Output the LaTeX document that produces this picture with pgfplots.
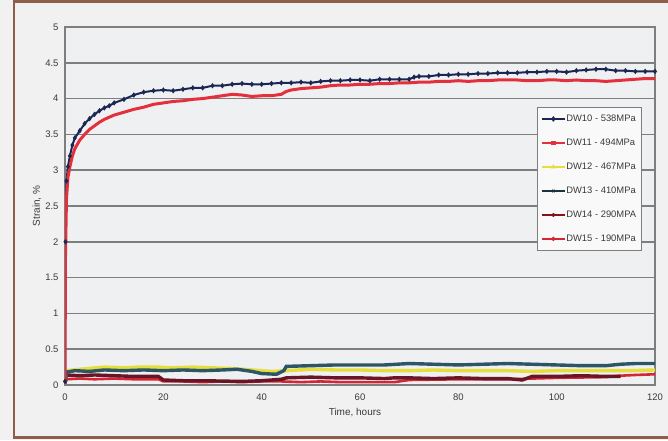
\documentclass[border=0pt]{standalone}
\usepackage{pgfplots}
\pgfplotsset{compat=1.18}
\usepackage{fontspec}
\setmainfont{Liberation Sans}
\definecolor{bgc}{HTML}{F1F1F1}
\definecolor{plotbg}{HTML}{EFF0F2}
\definecolor{framec}{HTML}{8E5E4A}
\definecolor{gridc}{HTML}{7E7E7E}
\definecolor{txt}{HTML}{3A3A3A}
\definecolor{navy}{HTML}{1B2653}
\definecolor{redc}{HTML}{E4303C}
\definecolor{yel}{HTML}{E6DE3C}
\definecolor{slate}{HTML}{2C5566}
\definecolor{maroon}{HTML}{6A1525}
\definecolor{redb}{HTML}{D42636}
\begin{document}
\begin{tikzpicture}
\useasboundingbox (0,0) rectangle (668pt,440pt);
\fill[bgc] (0,0) rectangle (668pt,440pt);
\draw[framec, line width=2.6pt] (700pt,438.3pt) -- (13.8pt,438.3pt) -- (13.8pt,2.8pt) -- (700pt,2.8pt);
\begin{axis}[
  at={(65pt,55pt)}, anchor=south west,
  scale only axis, width=590pt, height=358pt,
  xmin=0, xmax=120, ymin=0, ymax=5,
  axis background/.style={fill=plotbg},
  axis line style={gridc, line width=1.2pt},
  xtick={0,20,40,60,80,100,120},
  ytick={0,0.5,1,1.5,2,2.5,3,3.5,4,4.5,5},
  yticklabels={0,0.5,1,1.5,2,2.5,3,3.5,4,4.5,5},
  xticklabels={0,20,40,60,80,100,120},
  major tick length=0pt,
  ymajorgrids, grid style={gridc, line width=1.6pt},
  tick label style={font=\fontsize{9.5}{11}\selectfont, text=txt},
  yticklabel style={xshift=-3pt},
  xticklabel style={yshift=-5pt},
  xlabel={Time, hours}, ylabel={Strain, \%},
  label style={font=\fontsize{10}{11}\selectfont, text=txt},
  xlabel style={at={(axis description cs:0.4915,0)}, anchor=center, yshift=-28pt},
  ylabel style={at={(axis description cs:-0.0475,0.5)}, anchor=center},
  legend style={at={(0.8,0.7765)}, anchor=north west, fill=white!60!plotbg,
    draw=gridc, line width=0.9pt, font=\fontsize{9.4}{10}\selectfont, text=txt,
    inner xsep=4pt, inner ysep=6pt, row sep=13pt,
    nodes={inner sep=1pt, text height=7pt, text depth=2pt}},
  legend cell align=left,
  legend image code/.code={\draw[mark repeat=2,mark phase=2,#1] plot coordinates {(0cm,0cm)(0.4cm,0cm)(0.8cm,0cm)};},
]
% DW15
\addplot[redb, line width=2.6pt, forget plot] coordinates {
(0,0.02)(0.3,0.08)(3,0.09)(6,0.08)(10,0.09)(14,0.08)(19,0.08)(20,0.05)(24,0.05)(28,0.04)(32,0.05)(36,0.04)(40,0.05)(44,0.05)(48,0.04)(52,0.05)(56,0.04)(60,0.04)(64,0.04)(67,0.04)(70,0.07)(80,0.08)(90,0.08)(100,0.1)(110,0.11)(113,0.13)(116,0.14)(120,0.15)};
% DW14
\addplot[maroon, line width=3.4pt, forget plot] coordinates {
(0,0.02)(0.3,0.14)(3,0.13)(6,0.14)(10,0.13)(14,0.12)(19,0.12)(20,0.07)(24,0.06)(28,0.06)(32,0.055)(36,0.05)(40,0.06)(44,0.08)(45,0.1)(50,0.11)(55,0.1)(60,0.1)(65,0.09)(67,0.1)(70,0.1)(75,0.09)(80,0.1)(85,0.09)(90,0.09)(93,0.07)(95,0.12)(100,0.12)(105,0.13)(110,0.12)(113,0.12)};
% DW12
\addplot[yel, line width=3.4pt, forget plot] coordinates {
(0,0.02)(0.3,0.2)(3,0.22)(8,0.25)(12,0.24)(15,0.25)(19,0.25)(22,0.24)(26,0.25)(30,0.24)(34,0.23)(38,0.21)(42,0.19)(45,0.2)(50,0.22)(55,0.21)(60,0.21)(65,0.2)(70,0.2)(75,0.21)(80,0.2)(85,0.2)(90,0.2)(95,0.19)(100,0.2)(105,0.2)(110,0.2)(115,0.2)(120,0.21)};
% DW13
\addplot[slate, line width=3.4pt, forget plot] coordinates {
(0,0.02)(0.3,0.18)(2,0.2)(5,0.19)(8,0.21)(12,0.2)(16,0.21)(20,0.2)(24,0.21)(28,0.2)(32,0.21)(35,0.22)(38,0.19)(40,0.16)(43,0.15)(44.5,0.2)(45,0.26)(50,0.27)(55,0.28)(60,0.28)(65,0.28)(70,0.3)(75,0.29)(80,0.28)(85,0.29)(90,0.3)(95,0.29)(100,0.28)(105,0.27)(110,0.27)(113,0.29)(116,0.3)(120,0.3)};
% DW10
\addplot[navy, line width=2pt, mark=diamond*, mark size=1.1pt, forget plot] coordinates {
(0,0.05)(0.1,2.0)(0.3,2.85)(0.6,3.05)(1,3.2)(1.5,3.35)(2,3.45)(3,3.55)(4,3.65)(5,3.72)(6,3.78)(7,3.83)(8,3.87)(9,3.9)(10,3.94)(12,3.99)(14,4.05)(16,4.09)(18,4.11)(20,4.12)(22,4.11)(24,4.13)(26,4.15)(28,4.15)(30,4.18)(32,4.18)(34,4.2)(36,4.21)(38,4.2)(40,4.2)(42,4.21)(44,4.22)(46,4.22)(48,4.23)(50,4.22)(52,4.24)(54,4.25)(56,4.25)(58,4.26)(60,4.26)(62,4.25)(64,4.27)(66,4.27)(68,4.27)(70,4.27)(71,4.3)(72,4.31)(74,4.31)(76,4.33)(78,4.33)(80,4.34)(82,4.34)(84,4.35)(86,4.35)(88,4.36)(90,4.36)(92,4.36)(94,4.37)(96,4.37)(98,4.38)(100,4.38)(102,4.37)(104,4.39)(106,4.4)(108,4.41)(110,4.41)(112,4.39)(114,4.39)(116,4.38)(118,4.38)(120,4.38)};
% DW11
\addplot[redc, line width=3pt, forget plot] coordinates {
(0,0.02)(0.1,1.8)(0.3,2.6)(0.6,2.9)(1,3.05)(1.5,3.2)(2,3.3)(3,3.42)(4,3.5)(5,3.57)(6,3.62)(7,3.67)(8,3.71)(10,3.77)(12,3.81)(14,3.85)(16,3.88)(18,3.92)(20,3.94)(22,3.96)(24,3.97)(26,3.99)(28,4.0)(30,4.02)(32,4.04)(34,4.06)(36,4.05)(38,4.03)(40,4.04)(42,4.04)(44,4.06)(45,4.1)(46,4.12)(48,4.14)(50,4.15)(52,4.16)(54,4.18)(56,4.19)(58,4.19)(60,4.2)(62,4.2)(64,4.21)(66,4.21)(68,4.22)(70,4.22)(72,4.23)(74,4.23)(76,4.24)(78,4.24)(80,4.25)(82,4.24)(84,4.25)(86,4.25)(88,4.26)(90,4.26)(92,4.26)(94,4.25)(96,4.25)(98,4.26)(100,4.26)(102,4.25)(104,4.26)(106,4.25)(108,4.25)(110,4.24)(112,4.25)(114,4.26)(116,4.27)(118,4.28)(120,4.28)};
\addlegendimage{navy, line width=1.1pt, mark=diamond*, mark size=2pt}
\addlegendentry{DW10 - 538MPa}
\addlegendimage{redc, line width=1.1pt, mark=square*, mark size=1.6pt}
\addlegendentry{DW11 - 494MPa}
\addlegendimage{yel, line width=1.1pt, mark=triangle*, mark size=1.8pt}
\addlegendentry{DW12 - 467MPa}
\addlegendimage{slate!60!black, line width=1.1pt, mark=x, mark size=1.8pt}
\addlegendentry{DW13 - 410MPa}
\addlegendimage{maroon!80!red, line width=1.1pt, mark=asterisk, mark size=1.8pt}
\addlegendentry{DW14 - 290MPA}
\addlegendimage{redb, line width=1.1pt, mark=*, mark size=1.6pt}
\addlegendentry{DW15 - 190MPa}
\end{axis}
\end{tikzpicture}
\end{document}
